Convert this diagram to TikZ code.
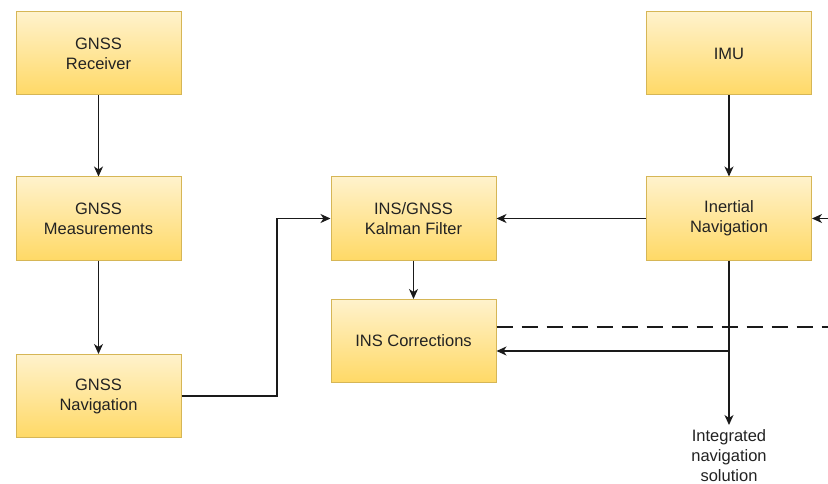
\documentclass[tikz,border=0pt]{standalone}
\usepackage{fontspec}
\setmainfont{Liberation Sans}
\usetikzlibrary{arrows.meta,calc}
\definecolor{boxtop}{HTML}{FFF2CC}
\definecolor{boxbot}{HTML}{FFD966}
\definecolor{boxline}{HTML}{D6B656}
\definecolor{edge}{HTML}{1A1A1A}
\definecolor{txt}{HTML}{222222}
\begin{document}
\begin{tikzpicture}[x=1pt,y=-1pt,
  blk/.style={draw=boxline,line width=1pt,top color=boxtop,bottom color=boxbot,
    minimum width=165pt,minimum height=83pt,inner sep=0pt,align=center,
    font=\fontsize{16.5}{20}\selectfont,text=txt},
  conn/.style={draw=edge,line width=1.3pt,-{Stealth[length=10pt,width=9pt,inset=3pt]}},
  plain/.style={draw=edge,line width=1.3pt},
  lbl/.style={align=center,font=\fontsize{16.5}{20}\selectfont,text=txt,inner sep=0pt}]
\useasboundingbox (0,0) rectangle (828,484);
\fill[white] (0,0) rectangle (828,484);
\node[blk] (rx) at (98.5,53.5) {GNSS\\Receiver};
\node[blk] (meas) at (98.5,218.5) {GNSS\\Measurements};
\node[blk] (gnav) at (98.5,396) {GNSS\\Navigation};
\node[blk] (kf) at (413.5,218.5) {INS/GNSS\\Kalman Filter};
\node[blk] (corr) at (413.5,341) {INS Corrections};
\node[blk] (imu) at (729,53.5) {IMU};
\node[blk] (inav) at (729,218.5) {Inertial\\Navigation};
\node[lbl] (sol) at (729,455.5) {Integrated\\navigation\\solution};
\coordinate (ext) at (828,218.5);
\coordinate (dashend) at (828,327);
\coordinate (branch) at (729,351);
\coordinate (solend) at (729,425);
\draw[conn] (rx) -- (meas);
\draw[conn] (meas) -- (gnav);
\draw[conn] (gnav.east) -- (277,396) -- (277,218.5) -- (kf.west);
\draw[conn] (inav.west) -- (kf.east);
\draw[conn] (kf) -- (corr);
\draw[conn] (imu) -- (inav);
\draw[conn] (ext) -- (inav.east);
\draw[conn] (inav.south) -- (solend);
\draw[conn] (branch) -- (corr.east |- branch);
\draw[plain,dash pattern=on 16pt off 9pt] (corr.east |- dashend) -- (dashend);
\end{tikzpicture}
\end{document}
